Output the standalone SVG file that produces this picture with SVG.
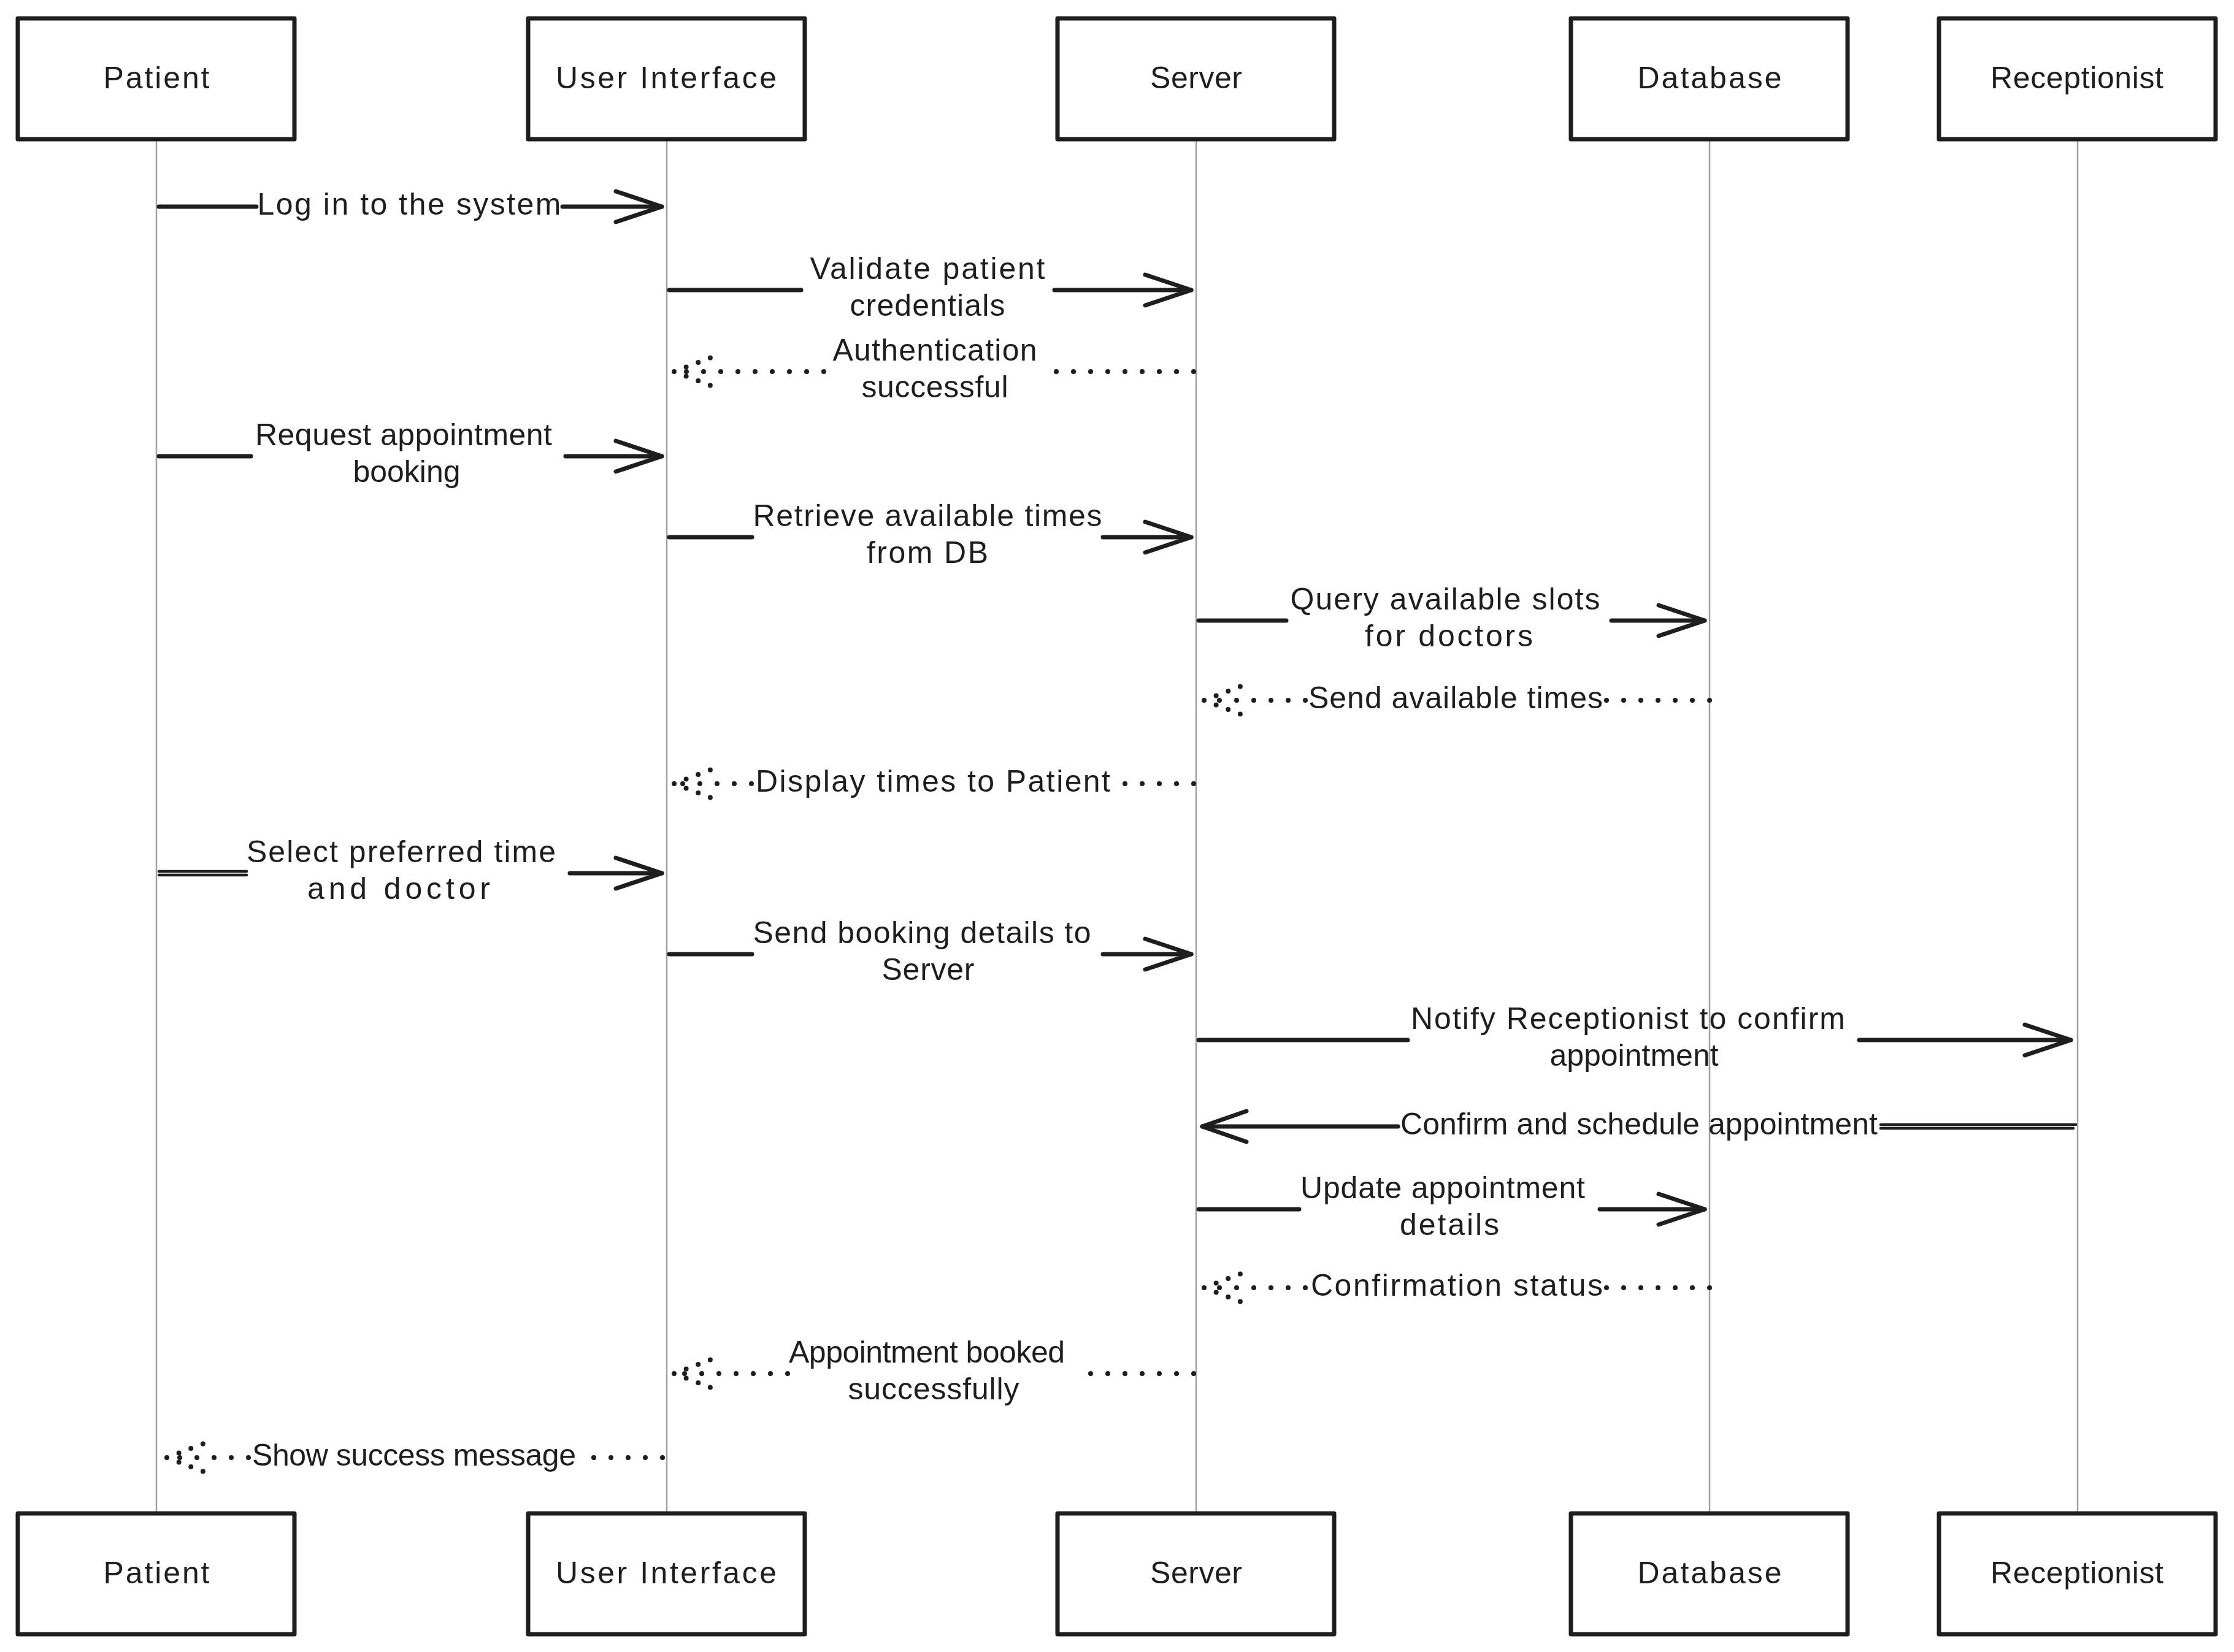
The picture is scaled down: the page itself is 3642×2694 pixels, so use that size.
<svg xmlns="http://www.w3.org/2000/svg" width="3642" height="2694" viewBox="0 0 3642 2694">
<defs>
<style>
.bg{fill:#ffffff}
.box{fill:#ffffff;stroke:#1e1e1e;stroke-width:7;stroke-linejoin:round}
.life{stroke:#a0a0a0;stroke-width:2.5;fill:none}
.solid{stroke:#1e1e1e;stroke-width:7;stroke-linecap:round;fill:none}
.dbl{stroke:#1e1e1e;stroke-width:4.5;stroke-linecap:round;fill:none}
.head{stroke:#1e1e1e;stroke-width:7;stroke-linecap:round;stroke-linejoin:round;fill:none}
.dot{stroke:#1e1e1e;stroke-width:8;stroke-linecap:round;stroke-dasharray:0 28;fill:none}
.dhead{stroke:#1e1e1e;stroke-width:8;stroke-linecap:round;stroke-dasharray:0 21;fill:none}
text{font-family:"Liberation Sans",Arial,sans-serif;font-size:50px;fill:#1e1e1e;text-anchor:middle}
</style>
</defs>
<rect class="bg" x="0" y="0" width="3642" height="2694"/>

<g id="lifelines">
<line class="life" x1="255" y1="227" x2="255" y2="2468"/>
<line class="life" x1="1087" y1="227" x2="1087" y2="2468"/>
<line class="life" x1="1950" y1="227" x2="1950" y2="2468"/>
<line class="life" x1="2787" y1="227" x2="2787" y2="2468"/>
<line class="life" x1="3387" y1="227" x2="3387" y2="2468"/>
</g>

<g id="patient-top"><rect class="box" x="29" y="30" width="451" height="197"/><text x="255" y="144" textLength="173">Patient</text></g>
<g id="ui-top"><rect class="box" x="861" y="30" width="451" height="197"/><text x="1086" y="144" textLength="360">User Interface</text></g>
<g id="server-top"><rect class="box" x="1724" y="30" width="451" height="197"/><text x="1950" y="144" textLength="150">Server</text></g>
<g id="database-top"><rect class="box" x="2561" y="30" width="451" height="197"/><text x="2787" y="144" textLength="235">Database</text></g>
<g id="receptionist-top"><rect class="box" x="3161" y="30" width="451" height="197"/><text x="3386" y="144" textLength="282">Receptionist</text></g>

<g id="patient-bottom"><rect class="box" x="29" y="2468" width="451" height="197"/><text x="255" y="2582" textLength="173">Patient</text></g>
<g id="ui-bottom"><rect class="box" x="861" y="2468" width="451" height="197"/><text x="1086" y="2582" textLength="360">User Interface</text></g>
<g id="server-bottom"><rect class="box" x="1724" y="2468" width="451" height="197"/><text x="1950" y="2582" textLength="150">Server</text></g>
<g id="database-bottom"><rect class="box" x="2561" y="2468" width="451" height="197"/><text x="2787" y="2582" textLength="235">Database</text></g>
<g id="receptionist-bottom"><rect class="box" x="3161" y="2468" width="451" height="197"/><text x="3386" y="2582" textLength="282">Receptionist</text></g>

<g id="connectors">
<g id="m1">
<line class="solid" x1="259" y1="337" x2="418" y2="337"/><line class="solid" x1="917" y1="337" x2="1079" y2="337"/>
<path class="head" d="M1004,312 L1079,337 L1004,362"/>
<text x="667" y="350" textLength="495">Log in to the system</text>
</g>
<g id="m2">
<line class="solid" x1="1091" y1="473" x2="1306" y2="473"/><line class="solid" x1="1719" y1="473" x2="1942" y2="473"/>
<path class="head" d="M1867,448 L1942,473 L1867,498"/>
<text x="1512" y="455" textLength="383">Validate patient</text>
<text x="1512" y="515" textLength="253">credentials</text>
</g>
<g id="m3">
<line class="dot" x1="1946" y1="606" x2="1707" y2="606"/><line class="dot" x1="1343" y1="606" x2="1099" y2="606"/>
<path class="dhead" d="M1099,606 L1162,582 M1099,606 L1162,630"/>
<text x="1524" y="588" textLength="333">Authentication</text>
<text x="1524" y="648" textLength="239">successful</text>
</g>
<g id="m4">
<line class="solid" x1="259" y1="744" x2="409" y2="744"/><line class="solid" x1="922" y1="744" x2="1079" y2="744"/>
<path class="head" d="M1004,719 L1079,744 L1004,769"/>
<text x="658" y="726" textLength="484">Request appointment</text>
<text x="663" y="786">booking</text>
</g>
<g id="m5">
<line class="solid" x1="1091" y1="876" x2="1226" y2="876"/><line class="solid" x1="1798" y1="876" x2="1942" y2="876"/>
<path class="head" d="M1867,851 L1942,876 L1867,901"/>
<text x="1512" y="858" textLength="569">Retrieve available times</text>
<text x="1512" y="918" textLength="198">from DB</text>
</g>
<g id="m6">
<line class="solid" x1="1954" y1="1012" x2="2097" y2="1012"/><line class="solid" x1="2627" y1="1012" x2="2779" y2="1012"/>
<path class="head" d="M2704,987 L2779,1012 L2704,1037"/>
<text x="2356" y="994" textLength="505">Query available slots</text>
<text x="2362" y="1054" textLength="274">for doctors</text>
</g>
<g id="m7">
<line class="dot" x1="2787" y1="1142" x2="2616" y2="1142"/><line class="dot" x1="2128" y1="1142" x2="1963" y2="1142"/>
<path class="dhead" d="M1963,1142 L2026,1118 M1963,1142 L2026,1166"/>
<text x="2373" y="1155" textLength="480">Send available times</text>
</g>
<g id="m8">
<line class="dot" x1="1946" y1="1278" x2="1814" y2="1278"/><line class="dot" x1="1225" y1="1278" x2="1099" y2="1278"/>
<path class="dhead" d="M1099,1278 L1162,1254 M1099,1278 L1162,1302"/>
<text x="1521" y="1291" textLength="578">Display times to Patient</text>
</g>
<g id="m9">
<line class="dbl" x1="259" y1="1421" x2="402" y2="1421"/><line class="dbl" x1="259" y1="1427" x2="402" y2="1427"/>
<line class="solid" x1="929" y1="1424" x2="1079" y2="1424"/>
<path class="head" d="M1004,1399 L1079,1424 L1004,1449"/>
<text x="654" y="1406" textLength="504">Select preferred time</text>
<text x="650" y="1466" textLength="298">and doctor</text>
</g>
<g id="m10">
<line class="solid" x1="1091" y1="1556" x2="1226" y2="1556"/><line class="solid" x1="1798" y1="1556" x2="1942" y2="1556"/>
<path class="head" d="M1867,1531 L1942,1556 L1867,1581"/>
<text x="1503" y="1538" textLength="551">Send booking details to</text>
<text x="1513" y="1598" textLength="151">Server</text>
</g>
<g id="m11">
<line class="solid" x1="1954" y1="1696" x2="2295" y2="1696"/><line class="solid" x1="3031" y1="1696" x2="3376" y2="1696"/>
<path class="head" d="M3301,1671 L3376,1696 L3301,1721"/>
<text x="2654" y="1678" textLength="708">Notify Receptionist to confirm</text>
<text x="2664" y="1738">appointment</text>
</g>
<g id="m12">
<line class="dbl" x1="3384" y1="1834" x2="3066" y2="1834"/><line class="dbl" x1="3380" y1="1840" x2="3066" y2="1840"/>
<line class="solid" x1="2279" y1="1837" x2="1960" y2="1837"/>
<path class="head" d="M2032,1812 L1960,1837 L2032,1862"/>
<text x="2672" y="1850" textLength="778">Confirm and schedule appointment</text>
</g>
<g id="m13">
<line class="solid" x1="1954" y1="1972" x2="2118" y2="1972"/><line class="solid" x1="2608" y1="1972" x2="2779" y2="1972"/>
<path class="head" d="M2704,1947 L2779,1972 L2704,1997"/>
<text x="2352" y="1954" textLength="464">Update appointment</text>
<text x="2363" y="2014" textLength="162">details</text>
</g>
<g id="m14">
<line class="dot" x1="2787" y1="2100" x2="2616" y2="2100"/><line class="dot" x1="2128" y1="2100" x2="1963" y2="2100"/>
<path class="dhead" d="M1963,2100 L2026,2076 M1963,2100 L2026,2124"/>
<text x="2375" y="2113" textLength="476">Confirmation status</text>
</g>
<g id="m15">
<line class="dot" x1="1946" y1="2240" x2="1761" y2="2240"/><line class="dot" x1="1284" y1="2240" x2="1099" y2="2240"/>
<path class="dhead" d="M1099,2240 L1162,2216 M1099,2240 L1162,2264"/>
<text x="1511" y="2222" textLength="450">Appointment booked</text>
<text x="1522" y="2282" textLength="279">successfully</text>
</g>
<g id="m16">
<line class="dot" x1="1080" y1="2377" x2="946" y2="2377"/><line class="dot" x1="405" y1="2377" x2="272" y2="2377"/>
<path class="dhead" d="M272,2377 L335,2353 M272,2377 L335,2401"/>
<text x="675" y="2390" textLength="528">Show success message</text>
</g>
</g>
</svg>
